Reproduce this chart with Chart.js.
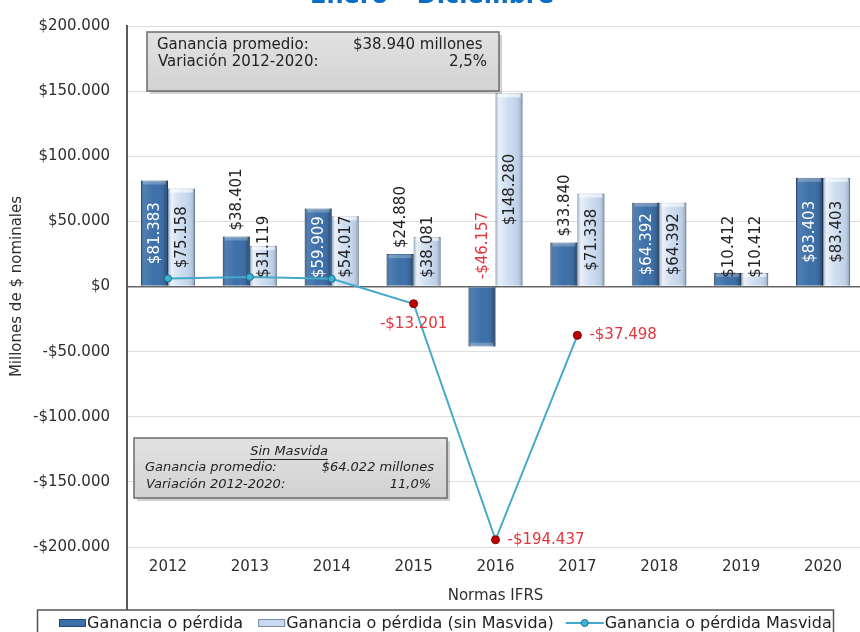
<!DOCTYPE html>
<html>
<head>
<meta charset="utf-8">
<script src="https://cdn.jsdelivr.net/npm/chart.js@4.4.1/dist/chart.umd.min.js"></script>
<style>
  html, body { margin: 0; padding: 0; background: #fff; overflow: hidden; }
  #wrap { position: relative; width: 869px; height: 632px; }
</style>
</head>
<body>
<div id="wrap"><canvas id="chart"></canvas></div>
<script>
// Chart data
const years = ['2012', '2013', '2014', '2015', '2016', '2017', '2018', '2019', '2020'];
const ganancia = [81383, 38401, 59909, 24880, -46157, 33840, 64392, 10412, 83403];
const gananciaSinMasvida = [75158, 31119, 54017, 38081, 148280, 71338, 64392, 10412, 83403];
const gananciaMasvida = [6225, 7282, 5892, -13201, -194437, -37498, null, null, null];
const yRange = [-200000, 200000];
const yStep = 50000;

const seriesNames = ['Ganancia o pérdida', 'Ganancia o pérdida (sin Masvida)', 'Ganancia o pérdida Masvida'];
const titleText = 'Enero – Diciembre';
const xTitle = 'Normas IFRS';
const yTitle = 'Millones de $ nominales';
const boxTop = [['Ganancia promedio:', '$38.940 millones'], ['Variación 2012-2020:', '2,5%']];
const boxSin = ['Sin Masvida', ['Ganancia promedio:', '$64.022 millones'], ['Variación 2012-2020:', '11,0%']];

const FONT = '"DejaVu Sans", Verdana, sans-serif';
const DARK = '#3d70a9';
const LIGHT = '#c9daf0';
const LINE = '#45a9c9';
const RED = '#e4343c';

function fmt(v) {
    const s = Math.abs(v).toString().replace(/\B(?=(\d{3})+(?!\d))/g, '.');
    return (v < 0 ? '-$' : '$') + s;
}

// shading over the bars for the bevelled look
const barShading = {
    id: 'barShading',
    afterDatasetDraw(chart, args) {
        if (args.meta.type !== 'bar') return;
        const ctx = chart.ctx;
        const dark = args.index === 0;
        args.meta.data.forEach((el) => {
            const left = el.x - el.width / 2;
            const top = Math.min(el.y, el.base);
            const h = Math.abs(el.base - el.y);
            const g = ctx.createLinearGradient(left, 0, left + el.width, 0);
            if (dark) {
                g.addColorStop(0, 'rgba(0,0,0,0.25)');
                g.addColorStop(0.12, 'rgba(255,255,255,0.10)');
                g.addColorStop(0.5, 'rgba(255,255,255,0)');
                g.addColorStop(0.85, 'rgba(0,0,0,0.08)');
                g.addColorStop(1, 'rgba(0,0,0,0.4)');
            } else {
                g.addColorStop(0, 'rgba(120,140,170,0.35)');
                g.addColorStop(0.12, 'rgba(255,255,255,0.6)');
                g.addColorStop(0.5, 'rgba(255,255,255,0.05)');
                g.addColorStop(0.85, 'rgba(90,110,140,0.12)');
                g.addColorStop(1, 'rgba(60,80,110,0.45)');
            }
            ctx.save();
            ctx.fillStyle = g;
            ctx.fillRect(left, top, el.width, h);
            // top bevel
            const bev = Math.min(4, h);
            const yb = el.y < el.base ? top : top + h - bev;
            ctx.fillStyle = dark ? 'rgba(255,255,255,0.25)' : 'rgba(255,255,255,0.6)';
            ctx.fillRect(left + 2, yb, el.width - 4, bev);
            ctx.restore();
        });
    }
};

// value labels for bars and line
const valueLabels = {
    id: 'valueLabels',
    afterDatasetsDraw(chart) {
        const ctx = chart.ctx;
        ctx.save();
        ctx.font = '15px ' + FONT;
        [0, 1].forEach((di) => {
            const meta = chart.getDatasetMeta(di);
            const vals = chart.data.datasets[di].data;
            meta.data.forEach((el, i) => {
                const v = vals[i];
                const txt = fmt(v);
                const w = ctx.measureText(txt).width;
                const h = Math.abs(el.base - el.y);
                let y, align, color;
                if (v < 0) {
                    y = el.base - 8; align = 'left'; color = RED;
                } else if (h >= w + 12) {
                    y = (el.y + el.base) / 2; align = 'center';
                    color = di === 0 ? '#ffffff' : '#222222';
                } else if (di === 0 && h >= 20) {
                    y = el.y - 6; align = 'left'; color = '#222222';
                } else {
                    y = el.base - 8; align = 'left'; color = '#222222';
                }
                ctx.save();
                ctx.translate(el.x, y);
                ctx.rotate(-Math.PI / 2);
                ctx.textAlign = align;
                ctx.textBaseline = 'middle';
                ctx.fillStyle = color;
                ctx.fillText(txt, 0, 1);
                ctx.restore();
            });
        });
        // line labels (negative points only)
        const lmeta = chart.getDatasetMeta(2);
        const lv = chart.data.datasets[2].data;
        lmeta.data.forEach((pt, i) => {
            const v = lv[i];
            if (v === null || v >= 0) return;
            const prev = lv[i - 1], next = lv[i + 1];
            const monotone = prev != null && next != null && prev > v && next < v;
            ctx.fillStyle = RED;
            ctx.textBaseline = 'middle';
            if (monotone) {
                ctx.textAlign = 'center';
                ctx.fillText(fmt(v), pt.x, pt.y + 20);
            } else {
                ctx.textAlign = 'left';
                ctx.fillText(fmt(v), pt.x + 12, pt.y);
            }
        });
        ctx.restore();
    }
};

function drawBox(ctx, x, y, w, h) {
    ctx.save();
    ctx.fillStyle = 'rgba(0,0,0,0.18)';
    ctx.fillRect(x + 3, y + 3, w, h);
    const g = ctx.createLinearGradient(0, y, 0, y + h);
    g.addColorStop(0, '#e2e2e2');
    g.addColorStop(1, '#d2d2d2');
    ctx.fillStyle = g;
    ctx.fillRect(x, y, w, h);
    ctx.strokeStyle = '#6b6b6b';
    ctx.lineWidth = 1.5;
    ctx.strokeRect(x, y, w, h);
    ctx.restore();
}

const extras = {
    id: 'extras',
    afterDraw(chart) {
        const ctx = chart.ctx;
        const area = chart.chartArea;
        ctx.save();
        // title (cut at the top edge)
        ctx.font = 'bold 24px ' + FONT;
        ctx.fillStyle = '#0a6fc2';
        ctx.textAlign = 'center';
        ctx.textBaseline = 'alphabetic';
        ctx.fillText(titleText, 432, 3);

        // y axis line continues down to the legend
        ctx.strokeStyle = '#595959';
        ctx.lineWidth = 2;
        ctx.beginPath();
        ctx.moveTo(area.left, area.bottom);
        ctx.lineTo(area.left, 610);
        ctx.stroke();

        // top info box
        drawBox(ctx, 147, 32, 352, 59);
        ctx.font = '15px ' + FONT;
        ctx.fillStyle = '#222';
        ctx.textBaseline = 'middle';
        ctx.textAlign = 'left';
        ctx.fillText(boxTop[0][0], 157, 45);
        ctx.fillText(boxTop[0][1], 353, 45);
        ctx.fillText(boxTop[1][0], 158, 62);
        ctx.textAlign = 'right';
        ctx.fillText(boxTop[1][1], 487, 62);

        // "Sin Masvida" box
        drawBox(ctx, 134, 438, 313, 60);
        ctx.font = 'italic 13px ' + FONT;
        ctx.textAlign = 'center';
        ctx.fillText(boxSin[0], 289, 452);
        const uw = ctx.measureText(boxSin[0]).width;
        ctx.strokeStyle = '#222';
        ctx.lineWidth = 1;
        ctx.beginPath();
        ctx.moveTo(289 - uw / 2, 459.5);
        ctx.lineTo(289 + uw / 2, 459.5);
        ctx.stroke();
        ctx.textAlign = 'left';
        ctx.fillText(boxSin[1][0], 145, 468);
        ctx.fillText(boxSin[2][0], 146, 485);
        ctx.textAlign = 'right';
        ctx.fillText(boxSin[1][1], 434, 468);
        ctx.fillText(boxSin[2][1], 431, 485);

        // legend
        ctx.strokeStyle = '#555';
        ctx.lineWidth = 1.5;
        ctx.strokeRect(37.5, 610, 796, 40);
        ctx.font = '16px ' + FONT;
        ctx.textAlign = 'left';
        ctx.fillStyle = '#222';
        const ly = 623;
        let x = 59;
        chart.data.datasets.forEach((ds, i) => {
            if (i < 2) {
                ctx.fillStyle = ds.backgroundColor;
                ctx.fillRect(x, ly - 4, 27, 8);
                ctx.strokeStyle = ds.borderColor;
                ctx.lineWidth = 1;
                ctx.strokeRect(x + 0.5, ly - 3.5, 26, 7);
            } else {
                ctx.strokeStyle = LINE;
                ctx.lineWidth = 2;
                ctx.beginPath();
                ctx.moveTo(x - 11, ly);
                ctx.lineTo(x + 27, ly);
                ctx.stroke();
                ctx.beginPath();
                ctx.arc(x + 8, ly, 3.5, 0, Math.PI * 2);
                ctx.fillStyle = '#3fb3d4';
                ctx.fill();
                ctx.strokeStyle = '#1b6f90';
                ctx.lineWidth = 1;
                ctx.stroke();
            }
            ctx.fillStyle = '#222';
            ctx.fillText(ds.label, x + 28, ly + 1);
            x += 28 + ctx.measureText(ds.label).width + 15;
            if (i === 1) x += 8;
        });
        ctx.restore();
    }
};

new Chart(document.getElementById('chart'), {
    type: 'bar',
    data: {
        labels: years,
        datasets: [
            {
                label: seriesNames[0],
                data: ganancia,
                backgroundColor: DARK,
                borderColor: '#234872',
                borderWidth: 1,
                categoryPercentage: 0.66,
                barPercentage: 1.0,
                order: 2
            },
            {
                label: seriesNames[1],
                data: gananciaSinMasvida,
                backgroundColor: LIGHT,
                borderColor: '#7a8ea9',
                borderWidth: 1,
                categoryPercentage: 0.66,
                barPercentage: 1.0,
                order: 2
            },
            {
                type: 'line',
                label: seriesNames[2],
                data: gananciaMasvida,
                borderColor: LINE,
                borderWidth: 2,
                tension: 0,
                spanGaps: false,
                pointRadius: (c) => (c.raw < 0 ? 4 : 3.5),
                pointBackgroundColor: (c) => (c.raw < 0 ? '#c00000' : '#3fb3d4'),
                pointBorderColor: (c) => (c.raw < 0 ? '#7a0000' : '#1b6f90'),
                pointBorderWidth: 1,
                order: 1
            }
        ]
    },
    options: {
        responsive: true,
        maintainAspectRatio: false,
        animation: false,
        layout: { padding: { top: 24, right: 0, bottom: 25, left: 0 } },
        plugins: {
            legend: { display: false },
            tooltip: { enabled: false }
        },
        scales: {
            x: {
                grid: { display: false, drawTicks: false },
                border: { display: false },
                ticks: { color: '#2e2e2e', font: { family: FONT, size: 15 }, padding: 11 },
                title: {
                    display: true,
                    text: xTitle,
                    color: '#2e2e2e',
                    font: { family: FONT, size: 15 },
                    padding: { top: 0, bottom: 2 }
                },
                afterFit: (s) => { s.height = 60; }
            },
            y: {
                min: yRange[0],
                max: yRange[1],
                ticks: {
                    stepSize: yStep,
                    color: '#2e2e2e',
                    font: { family: FONT, size: 15 },
                    padding: 17,
                    callback: (v) => fmt(v)
                },
                grid: {
                    drawTicks: false,
                    color: (c) => (c.tick && c.tick.value === 0 ? '#666666' : '#dddddd'),
                    lineWidth: (c) => (c.tick && c.tick.value === 0 ? 1.5 : 1)
                },
                border: { display: true, color: '#595959', width: 2 },
                title: {
                    display: true,
                    text: yTitle,
                    color: '#2e2e2e',
                    font: { family: FONT, size: 15 },
                    padding: { top: 8, bottom: 0 }
                },
                afterFit: (s) => { s.width = 127; }
            }
        }
    },
    plugins: [barShading, valueLabels, extras]
});
</script>
</body>
</html>
